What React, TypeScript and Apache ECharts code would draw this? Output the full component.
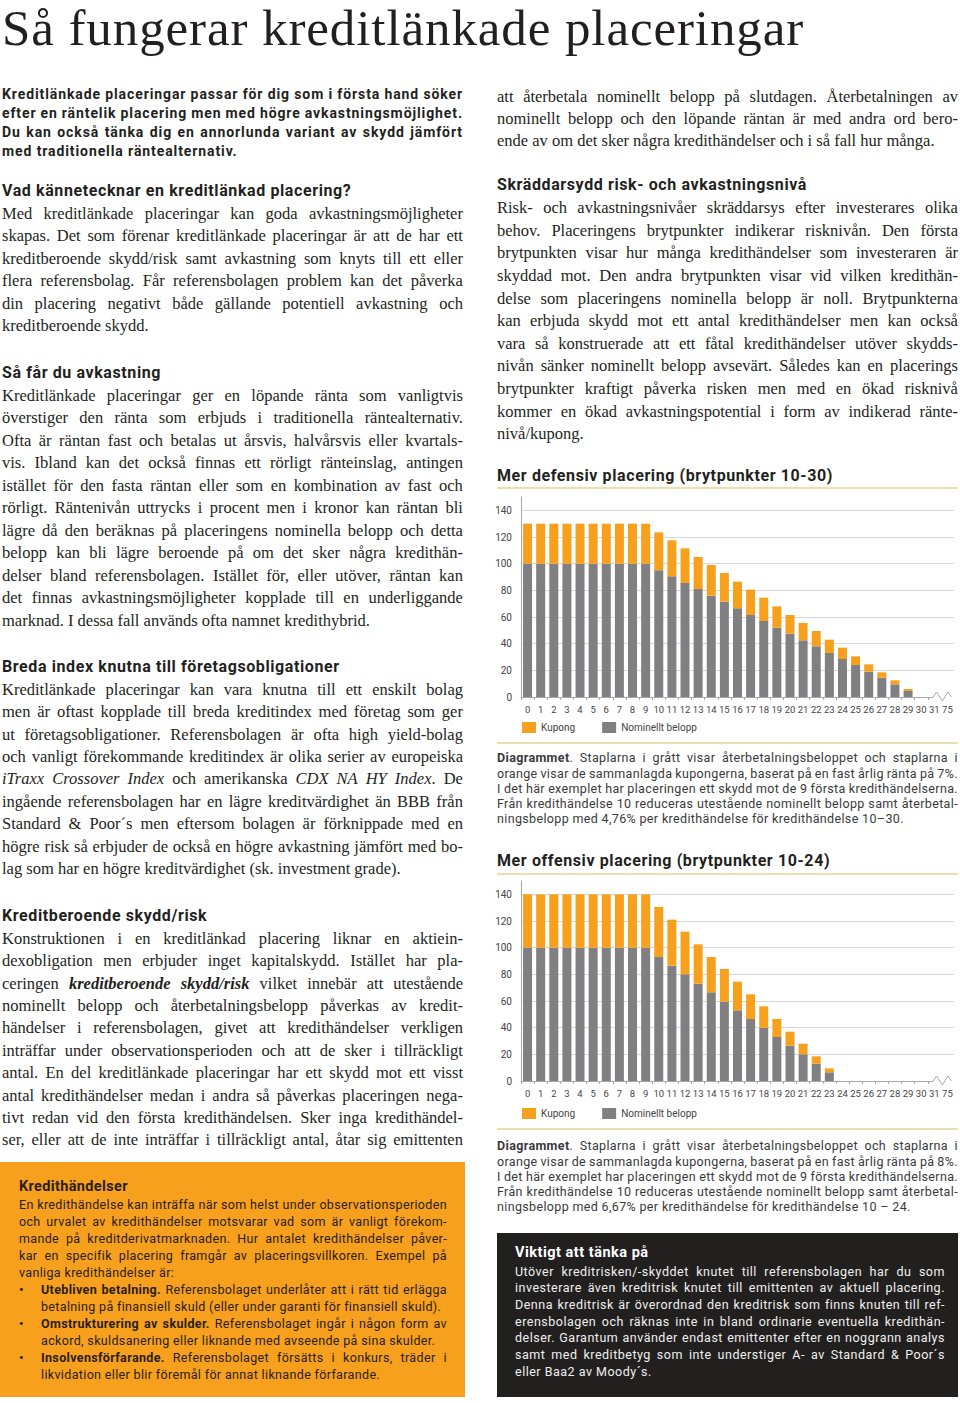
import React, { useEffect, useRef } from 'react';
import * as echarts from 'echarts';

// ---------- DATA ----------
const categories = ['0','1','2','3','4','5','6','7','8','9','10','11','12','13','14','15','16','17','18','19','20','21','22','23','24','25','26','27','28','29','30','31','75'];
const defNominal = [100,100,100,100,100,100,100,100,100,100,95,90.5,85.5,81,76,71.5,66.5,61.5,57,52,47.5,42.5,38,33,28.5,24,19,14.5,9.5,4.5,0,0,0];
const defKupong = [30,30,30,30,30,30,30,30,30,30,28.5,27,26,24,23,21.5,20,19,17.5,16,14,13,11.5,10,8.5,6.5,5.5,4,3,1.5,0,0,0];
const offNominal = [100,100,100,100,100,100,100,100,100,100,93,86.5,80,73,66.5,59.5,53,46.5,40,33,26.5,20,13,6.5,0,0,0,0,0,0,0,0,0];
const offKupong = [40,40,40,40,40,40,40,40,40,40,37.5,34.5,32,29.5,26.5,24.5,21.5,18.5,16,13.5,10.5,8,5.5,3,0,0,0,0,0,0,0,0,0];
const legendNames = ['Kupong', 'Nominellt belopp'];

const ORANGE = '#F6A01E';
const GREY = '#808082';
const INK = '#231f20';
const KHAKI = '#e9e0ad';
const SERIF = '"Liberation Serif", "Times New Roman", serif';
const SANS = 'Roboto, "Noto Sans", sans-serif';

// ---------- TEXT ----------
const intro = [
  'Kreditlänkade placeringar passar för dig som i första hand söker',
  'efter en räntelik placering men med högre avkastningsmöjlighet.',
  'Du kan också tänka dig en annorlunda variant av skydd jämfört',
  'med traditionella räntealternativ.',
];
const p1 = [
  'Med kreditlänkade placeringar kan goda avkastningsmöjligheter',
  'skapas. Det som förenar kreditlänkade placeringar är att de har ett',
  'kreditberoende skydd/risk samt avkastning som knyts till ett eller',
  'flera referensbolag. Får referensbolagen problem kan det påverka',
  'din placering negativt både gällande potentiell avkastning och',
  'kreditberoende skydd.',
];
const p2 = [
  'Kreditlänkade placeringar ger en löpande ränta som vanligtvis',
  'överstiger den ränta som erbjuds i traditionella räntealternativ.',
  'Ofta är räntan fast och betalas ut årsvis, halvårsvis eller kvartals-',
  'vis. Ibland kan det också finnas ett rörligt ränteinslag, antingen',
  'istället för den fasta räntan eller som en kombination av fast och',
  'rörligt. Räntenivån uttrycks i procent men i kronor kan räntan bli',
  'lägre då den beräknas på placeringens nominella belopp och detta',
  'belopp kan bli lägre beroende på om det sker några kredithän-',
  'delser bland referensbolagen. Istället för, eller utöver, räntan kan',
  'det finnas avkastningsmöjligheter kopplade till en underliggande',
  'marknad. I dessa fall används ofta namnet kredithybrid.',
];
const p3 = [
  'Kreditlänkade placeringar kan vara knutna till ett enskilt bolag',
  'men är oftast kopplade till breda kreditindex med företag som ger',
  'ut företagsobligationer. Referensbolagen är ofta high yield-bolag',
  'och vanligt förekommande kreditindex är olika serier av europeiska',
  '*iTraxx Crossover Index* och amerikanska *CDX NA HY Index*. De',
  'ingående referensbolagen har en lägre kreditvärdighet än BBB från',
  'Standard & Poor´s men eftersom bolagen är förknippade med en',
  'högre risk så erbjuder de också en högre avkastning jämfört med bo-',
  'lag som har en högre kreditvärdighet (sk. investment grade).',
];
const p4 = [
  'Konstruktionen i en kreditlänkad placering liknar en aktiein-',
  'dexobligation men erbjuder inget kapitalskydd. Istället har pla-',
  'ceringen #*kreditberoende skydd/risk*# vilket innebär att utestående',
  'nominellt belopp och återbetalningsbelopp påverkas av kredit-',
  'händelser i referensbolagen, givet att kredithändelser verkligen',
  'inträffar under observationsperioden och att de sker i tillräckligt',
  'antal. En del kreditlänkade placeringar har ett skydd mot ett visst',
  'antal kredithändelser medan i andra så påverkas placeringen nega-',
  'tivt redan vid den första kredithändelsen. Sker inga kredithändel-',
  'ser, eller att de inte inträffar i tillräckligt antal, åtar sig emittenten',
];
const r0 = [
  'att återbetala nominellt belopp på slutdagen. Återbetalningen av',
  'nominellt belopp och den löpande räntan är med andra ord bero-',
  'ende av om det sker några kredithändelser och i så fall hur många.',
];
const r1 = [
  'Risk- och avkastningsnivåer skräddarsys efter investerares olika',
  'behov. Placeringens brytpunkter indikerar risknivån. Den första',
  'brytpunkten visar hur många kredithändelser som investeraren är',
  'skyddad mot. Den andra brytpunkten visar vid vilken kredithän-',
  'delse som placeringens nominella belopp är noll. Brytpunkterna',
  'kan erbjuda skydd mot ett antal kredithändelser men kan också',
  'vara så konstruerade att ett fåtal kredithändelser utöver skydds-',
  'nivån sänker nominellt belopp avsevärt. Således kan en placerings',
  'brytpunkter kraftigt påverka risken men med en ökad risknivå',
  'kommer en ökad avkastningspotential i form av indikerad ränte-',
  'nivå/kupong.',
];
const cap1 = [
  '#Diagrammet#. Staplarna i grått visar återbetalningsbeloppet och staplarna i',
  'orange visar de sammanlagda kupongerna, baserat på en fast årlig ränta på  7%.',
  'I det här exemplet har placeringen ett skydd mot de 9 första kredithändelserna.',
  'Från kredithändelse 10 reduceras utestående nominellt belopp samt återbetal-',
  'ningsbelopp med 4,76% per kredithändelse för kredithändelse 10–30.',
];
const cap2 = [
  '#Diagrammet#. Staplarna i grått visar återbetalningsbeloppet och staplarna i',
  'orange visar de sammanlagda kupongerna, baserat på en fast årlig ränta på  8%.',
  'I det här exemplet har placeringen ett skydd mot de 9 första kredithändelserna.',
  'Från kredithändelse 10 reduceras utestående nominellt belopp samt återbetal-',
  'ningsbelopp med 6,67% per kredithändelse för kredithändelse 10 – 24.',
];
const boxIntro = [
  'En kredithändelse kan inträffa när som helst under observationsperioden',
  'och urvalet av kredithändelser motsvarar vad som är vanligt förekom-',
  'mande på kreditderivatmarknaden. Hur antalet kredithändelser påver-',
  'kar en specifik placering framgår av placeringsvillkoren. Exempel på',
  'vanliga kredithändelser är:',
];
const bullets = [
  ['#Utebliven betalning.# Referensbolaget underlåter att i rätt tid erlägga', 'betalning på finansiell skuld (eller under garanti för finansiell skuld).'],
  ['#Omstrukturering av skulder.# Referensbolaget ingår i någon form av', 'ackord, skuldsanering eller liknande med avseende på sina skulder.'],
  ['#Insolvensförfarande.# Referensbolaget försätts i konkurs, träder i', 'likvidation eller blir föremål för annat liknande förfarande.'],
];
const dark = [
  'Utöver kreditrisken/-skyddet knutet till referensbolagen har du som',
  'investerare även kreditrisk knutet till emittenten av aktuell placering.',
  'Denna kreditrisk är överordnad den kreditrisk som finns knuten till ref-',
  'erensbolagen och räknas inte in bland ordinarie eventuella kredithän-',
  'delser. Garantum använder endast emittenter efter en noggrann analys',
  'samt med kreditbetyg som inte understiger A- av Standard & Poor´s',
  'eller Baa2 av Moody´s.',
];

// ---------- TEXT HELPERS ----------
type Seg = { t: string; b: boolean; i: boolean };
function parse(s: string): Seg[] {
  const out: Seg[] = [];
  let b = false, it = false, cur = '';
  for (const ch of s) {
    if (ch === '#' || ch === '*') {
      if (cur) out.push({ t: cur, b, i: it });
      cur = '';
      if (ch === '#') b = !b; else it = !it;
    } else cur += ch;
  }
  if (cur) out.push({ t: cur, b, i: it });
  return out;
}
function toWords(segs: Seg[]): Seg[][] {
  const ws: Seg[][] = [];
  let w: Seg[] = [];
  for (const sg of segs) {
    const parts = sg.t.split(' ');
    parts.forEach((p, k) => {
      if (k > 0) { if (w.length) ws.push(w); w = []; }
      if (p) w.push({ t: p, b: sg.b, i: sg.i });
    });
  }
  if (w.length) ws.push(w);
  return ws;
}
function segSpan(s: Seg, k: number) {
  return <span key={k} style={{ fontWeight: s.b ? 700 : undefined, fontStyle: s.i ? 'italic' : undefined }}>{s.t}</span>;
}

type Font = React.CSSProperties;
function Line({ text, justify, x, y, w, lh, font }: { text: string; justify: boolean; x: number; y: number; w: number; lh: number; font: Font }) {
  const base: React.CSSProperties = {
    position: 'absolute', left: x, top: y - lh / 2, width: w, height: lh,
    lineHeight: lh + 'px', whiteSpace: 'pre', ...font,
  };
  const segs = parse(text);
  if (justify) {
    const ws = toWords(segs);
    return (
      <div style={{ ...base, display: 'flex', justifyContent: 'space-between', columnGap: 2 }}>
        {ws.map((wd, k) => <span key={k}>{wd.map(segSpan)}</span>)}
      </div>
    );
  }
  return <div style={base}>{segs.map(segSpan)}</div>;
}

function Block({ lines, x, y, w, lh, font, lastJustify = false }: { lines: string[]; x: number; y: number; w: number; lh: number; font: Font; lastJustify?: boolean }) {
  return (
    <>
      {lines.map((t, k) => (
        <Line key={k} text={t} justify={k < lines.length - 1 || lastJustify} x={x} y={y + k * lh} w={w} lh={lh} font={font} />
      ))}
    </>
  );
}

const serif: Font = { fontFamily: SERIF, fontSize: 16.5, color: INK };
const heading: Font = { fontFamily: SANS, fontSize: 16, fontWeight: 700, color: INK, letterSpacing: 0.6 };
const introF: Font = { fontFamily: SANS, fontSize: 14, fontWeight: 700, color: INK, letterSpacing: 0.9 };
const capF: Font = { fontFamily: SANS, fontSize: 12.5, color: '#3a3a3a', letterSpacing: 0.35 };
const boxF: Font = { fontFamily: SANS, fontSize: 12.5, color: '#2a2016', letterSpacing: 0.35 };
const darkF: Font = { fontFamily: SANS, fontSize: 12.5, color: '#f0f0f0', letterSpacing: 0.5 };

// ---------- CHART ----------
function BarChart({ nominal, kupong, left, top, width, height, gridTop, gridBottom, legendTop }:
  { nominal: number[]; kupong: number[]; left: number; top: number; width: number; height: number; gridTop: number; gridBottom: number; legendTop: number }) {
  const ref = useRef<HTMLDivElement>(null);
  useEffect(() => {
    const chart = echarts.init(ref.current!, null, { renderer: 'svg' });
    const axisGrey = '#a8a8a8';
    chart.setOption({
      animation: false,
      grid: { left: 31, right: 6, top: gridTop, bottom: gridBottom },
      legend: {
        data: legendNames, left: 32, top: legendTop, padding: 0,
        icon: 'rect', itemWidth: 14, itemHeight: 11, itemGap: 27,
        textStyle: { fontSize: 10, color: '#444', fontFamily: SANS },
      },
      xAxis: {
        type: 'category', data: categories,
        axisLine: { lineStyle: { color: axisGrey } },
        axisTick: { show: true, length: 3, lineStyle: { color: axisGrey } },
        axisLabel: { fontSize: 9.5, color: '#444', margin: 7, interval: 0, fontFamily: SANS },
      },
      yAxis: {
        type: 'value', min: 0, max: 150, interval: 20,
        axisLine: { show: true, lineStyle: { color: axisGrey } },
        axisTick: { show: false },
        axisLabel: { fontSize: 10, color: '#444', margin: 9, showMaxLabel: false, fontFamily: SANS },
        splitLine: { show: true, showMaxLine: false, lineStyle: { color: '#d6d6d6' } },
      },
      series: [
        { name: 'Nominellt belopp', type: 'bar', stack: 'total', data: nominal, barWidth: 9, itemStyle: { color: GREY } },
        { name: 'Kupong', type: 'bar', stack: 'total', data: kupong, barWidth: 9, itemStyle: { color: ORANGE } },
      ],
    });
    // axis break marker between "31" and "75"
    const i31 = categories.indexOf('31');
    const i75 = categories.indexOf('75');
    const x31 = chart.convertToPixel({ xAxisIndex: 0 }, i31) as number;
    const x75 = chart.convertToPixel({ xAxisIndex: 0 }, i75) as number;
    const y0 = chart.convertToPixel({ yAxisIndex: 0 }, 0) as number;
    const a = x31 - 1;
    const e = x75 + 4;
    chart.setOption({
      graphic: [
        { type: 'rect', z: 100, shape: { x: a, y: y0 - 1, width: width - a, height: 5 }, style: { fill: '#fff' } },
        {
          type: 'polyline', z: 101,
          shape: { points: [[a, y0], [a + (e - a) * 0.18, y0 - 5], [a + (e - a) * 0.5, y0 + 4], [a + (e - a) * 0.8, y0 - 5], [e, y0]] },
          style: { stroke: axisGrey, lineWidth: 1, fill: 'none' },
        },
      ],
    });
    return () => chart.dispose();
  }, []);
  return <div ref={ref} style={{ position: 'absolute', left, top, width, height }} />;
}

function Rule({ y, x = 497, w = 461 }: { y: number; x?: number; w?: number }) {
  return <div style={{ position: 'absolute', left: x, top: y, width: w, height: 2, background: KHAKI }} />;
}

export default function App() {
  return (
    <div style={{ position: 'absolute', left: 0, top: 0, width: 960, height: 1403, overflow: 'hidden', background: '#fff', color: INK }}>
      <div style={{ position: 'absolute', left: 2, top: 0, fontFamily: SERIF, fontSize: 51, lineHeight: '57px', letterSpacing: 0.9, whiteSpace: 'nowrap', color: INK }}>
        Så fungerar kreditlänkade placeringar
      </div>

      {/* left column */}
      <Block lines={intro} x={2} y={94} w={461} lh={19} font={introF} />
      <Line text="Vad kännetecknar en kreditlänkad placering?" justify={false} x={2} y={191} w={461} lh={20} font={heading} />
      <Block lines={p1} x={2} y={214} w={461} lh={22.5} font={serif} />
      <Line text="Så får du avkastning" justify={false} x={2} y={373} w={461} lh={20} font={heading} />
      <Block lines={p2} x={2} y={396} w={461} lh={22.5} font={serif} />
      <Line text="Breda index knutna till företagsobligationer" justify={false} x={2} y={667} w={461} lh={20} font={heading} />
      <Block lines={p3} x={2} y={690} w={461} lh={22.4} font={serif} />
      <Line text="Kreditberoende skydd/risk" justify={false} x={2} y={916} w={461} lh={20} font={heading} />
      <Block lines={p4} x={2} y={939} w={461} lh={22.4} font={serif} lastJustify />

      {/* orange box */}
      <div style={{ position: 'absolute', left: 0, top: 1162, width: 465, height: 235, background: ORANGE }} />
      <Line text="Kredithändelser" justify={false} x={19} y={1187} w={428} lh={18} font={{ ...boxF, fontSize: 14.5, fontWeight: 700 }} />
      <Block lines={boxIntro} x={19} y={1204} w={428} lh={17} font={boxF} />
      {bullets.map((b, k) => (
        <React.Fragment key={k}>
          <Line text="•" justify={false} x={19} y={1289 + k * 34} w={10} lh={17} font={{ ...boxF, fontWeight: 700 }} />
          <Block lines={b} x={41} y={1289 + k * 34} w={406} lh={17} font={boxF} />
        </React.Fragment>
      ))}

      {/* right column */}
      <Block lines={r0} x={497} y={97} w={461} lh={22} font={serif} />
      <Line text="Skräddarsydd risk- och avkastningsnivå" justify={false} x={497} y={185} w={461} lh={20} font={heading} />
      <Block lines={r1} x={497} y={208.5} w={461} lh={22.6} font={serif} />
      <Line text="Mer defensiv placering (brytpunkter 10-30)" justify={false} x={497} y={476} w={461} lh={20} font={heading} />
      <Rule y={487} />
      <BarChart nominal={defNominal} kupong={defKupong} left={490} top={495} width={470} height={250} gridTop={2} gridBottom={48} legendTop={227} />
      <Rule y={742} />
      <Block lines={cap1} x={497} y={758} w={461} lh={15.2} font={capF} />

      <Line text="Mer offensiv placering (brytpunkter 10-24)" justify={false} x={497} y={861} w={461} lh={20} font={heading} />
      <Rule y={873} />
      <BarChart nominal={offNominal} kupong={offKupong} left={490} top={880} width={470} height={250} gridTop={1} gridBottom={49} legendTop={228} />
      <Rule y={1128} />
      <Block lines={cap2} x={497} y={1146} w={461} lh={15.2} font={capF} />

      {/* dark box */}
      <div style={{ position: 'absolute', left: 497, top: 1233, width: 461, height: 164, background: '#221f1f' }} />
      <Line text="Viktigt att tänka på" justify={false} x={515} y={1253} w={430} lh={18} font={{ ...darkF, fontSize: 14.5, fontWeight: 700, color: '#fff' }} />
      <Block lines={dark} x={515} y={1272} w={430} lh={16.7} font={darkF} />
    </div>
  );
}
